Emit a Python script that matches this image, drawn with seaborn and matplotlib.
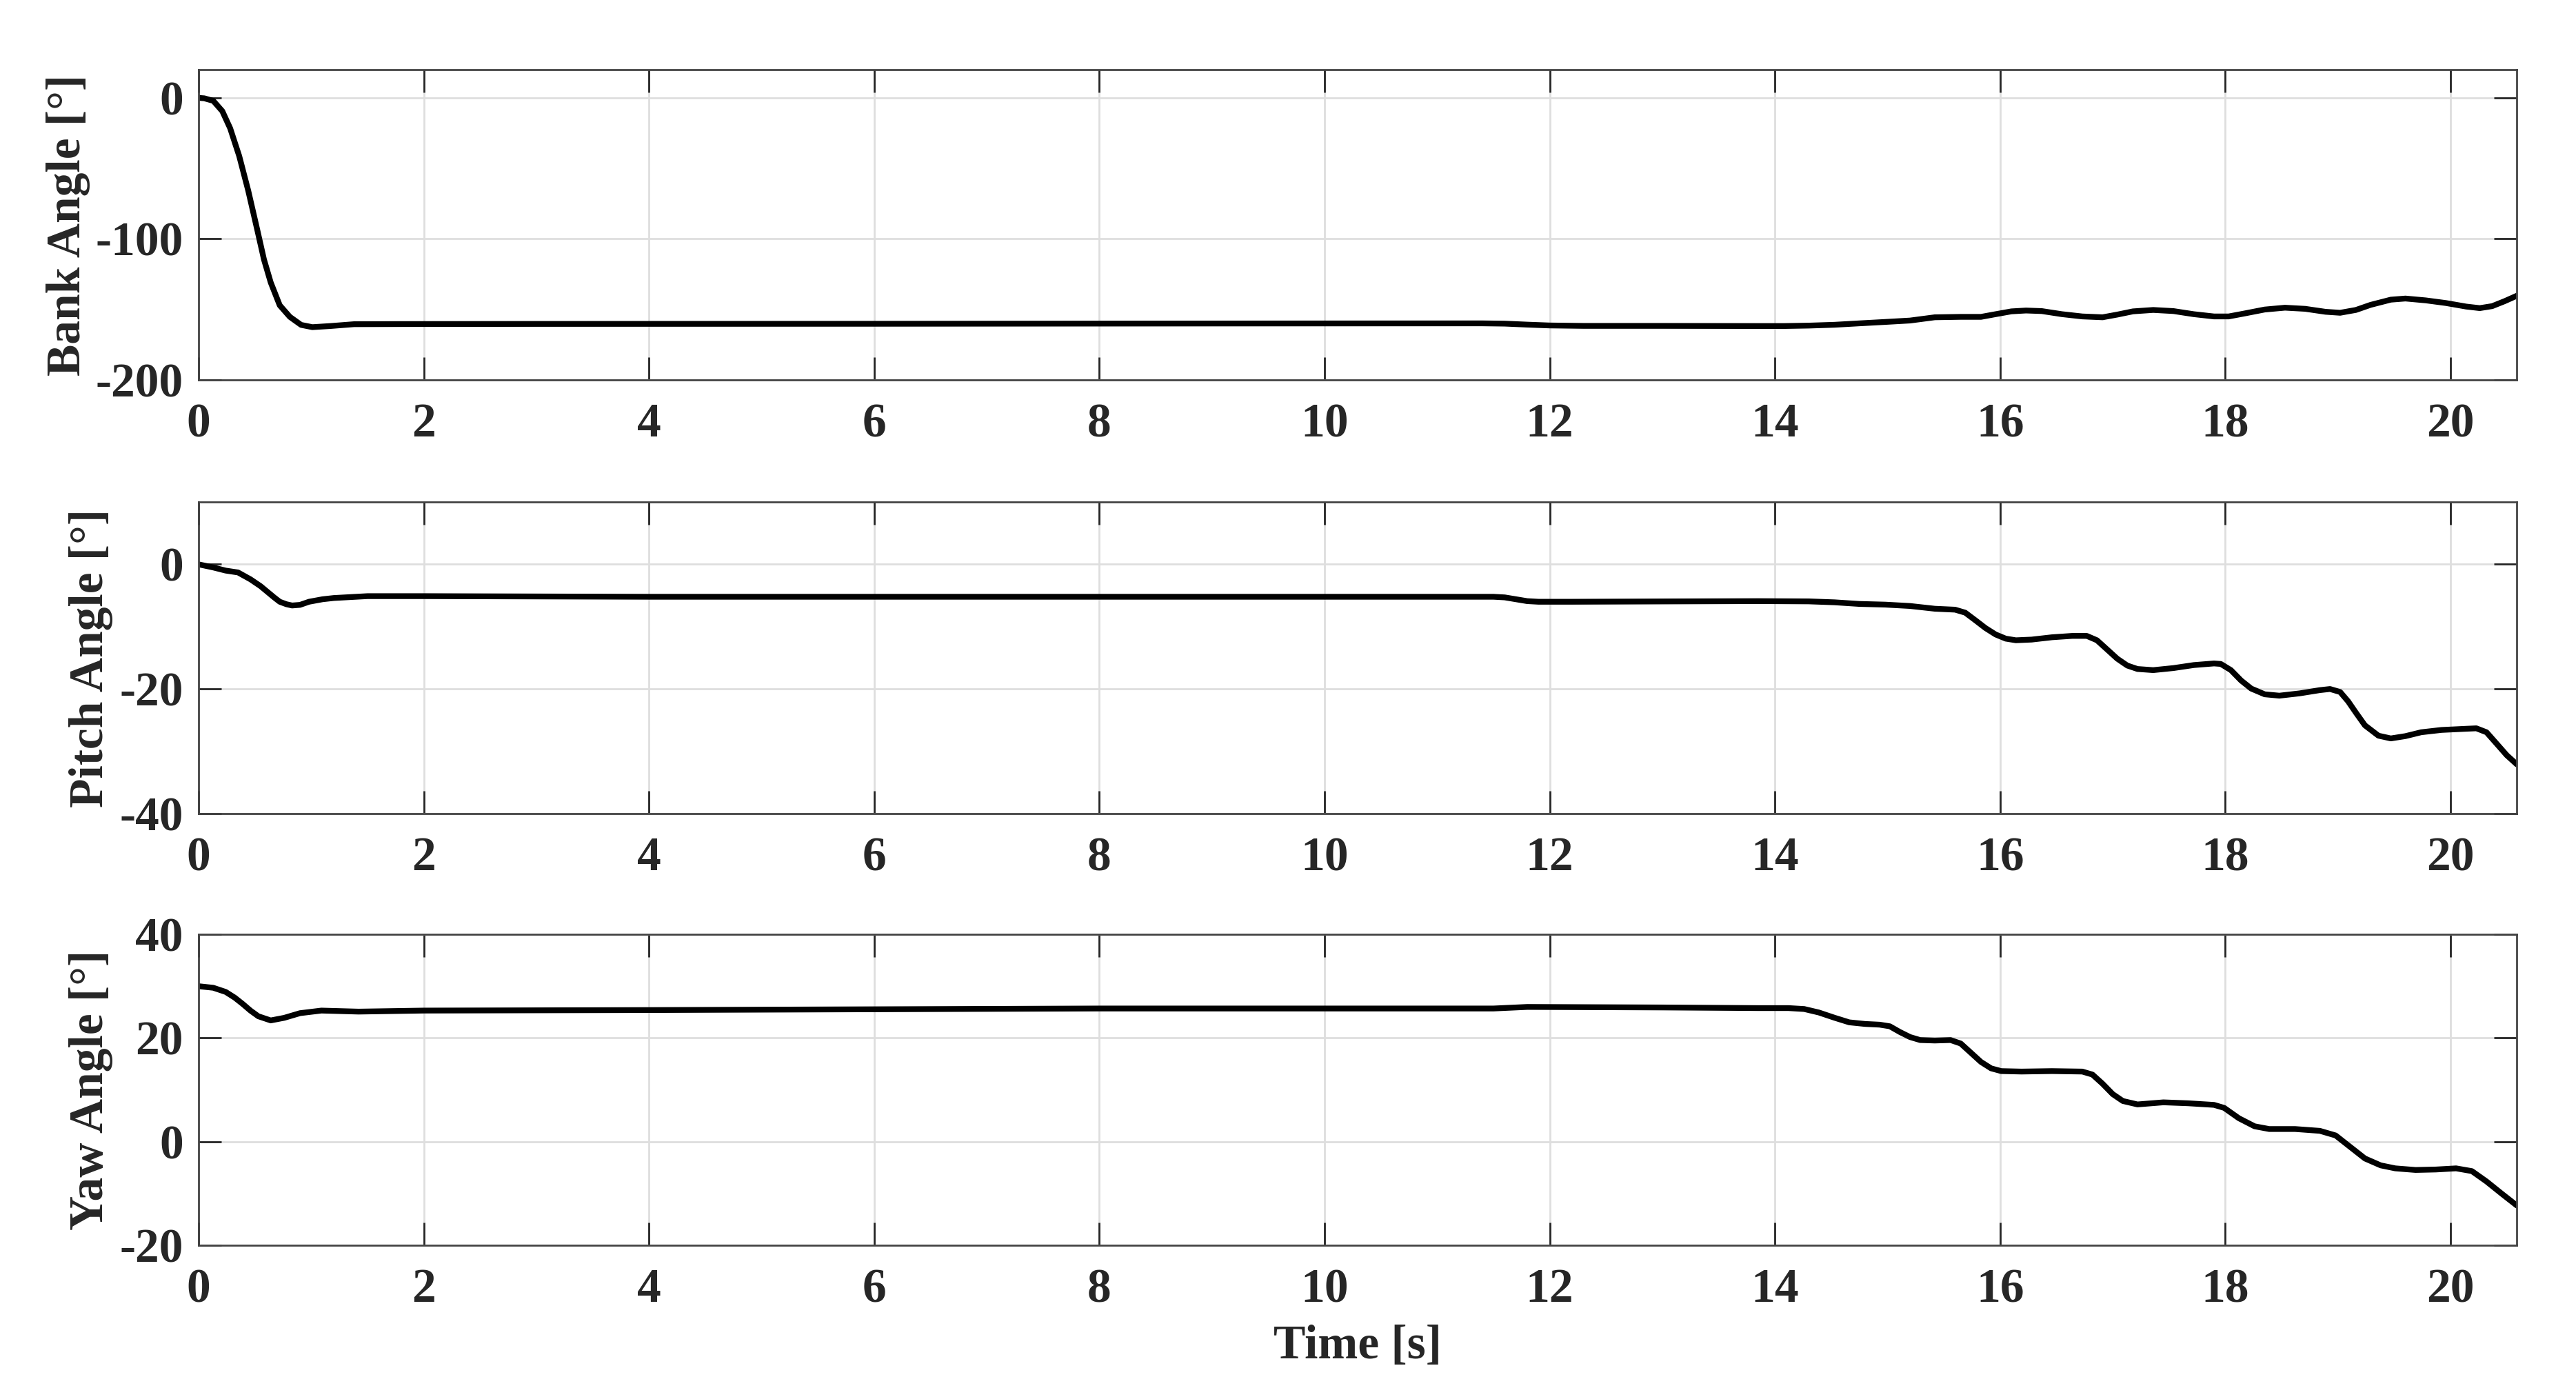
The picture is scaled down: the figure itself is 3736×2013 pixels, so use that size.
import numpy as np
import pandas as pd
import matplotlib
matplotlib.use("Agg")
import matplotlib.pyplot as plt
import seaborn as sns

# ---------------- data ----------------
bank_t = [0, 0.05, 0.13, 0.21, 0.28, 0.36, 0.44, 0.52, 0.58, 0.64, 0.72, 0.81, 0.91,
          1.01, 1.17, 1.38, 1.8, 3, 6, 9, 11.4, 11.6, 11.8, 12.0, 12.3, 13.0,
          13.85, 14.08, 14.30, 14.53, 14.75, 14.98, 15.20, 15.42, 15.65, 15.83, 15.96,
          16.10, 16.23, 16.37, 16.55, 16.73, 16.91, 17.04, 17.18, 17.36, 17.54, 17.72,
          17.90, 18.03, 18.17, 18.35, 18.53, 18.71, 18.89, 19.02, 19.16, 19.29, 19.47,
          19.60, 19.78, 19.96, 20.14, 20.26, 20.37, 20.48, 20.59]
bank = [0, -0.3, -2.1, -9.4, -21.6, -41.2, -65.7, -93.4, -114.6, -130.9, -147.1, -155.3, -161.0,
        -162.6, -161.8, -160.5, -160.4, -160.3, -160.2, -160.0, -159.9, -160.1, -160.8, -161.4, -161.7, -161.7,
        -161.8, -161.8, -161.5, -160.9, -159.9, -158.9, -157.9, -155.6, -155.3, -155.3, -153.4,
        -151.4, -150.8, -151.2, -153.4, -155.0, -155.6, -153.7, -151.4, -150.4, -151.2, -153.4,
        -155.0, -155.0, -152.9, -150.1, -148.8, -149.6, -151.7, -152.4, -150.4, -146.8, -143.1,
        -142.3, -143.6, -145.5, -148.0, -149.1, -147.7, -144.2, -140.3]

pitch_t = [0, 0.13, 0.24, 0.35, 0.46, 0.55, 0.61, 0.67, 0.72, 0.78, 0.83, 0.9, 0.98, 1.1,
           1.2, 1.5, 2.0, 4.0, 8.0, 11.5, 11.6, 11.7, 11.8, 11.9, 12.2, 13.0,
           13.85, 14.30, 14.53, 14.75, 14.98, 15.20, 15.42, 15.60, 15.69, 15.78, 15.87,
           15.96, 16.05, 16.14, 16.28, 16.46, 16.64, 16.77, 16.86, 16.95, 17.04, 17.13,
           17.22, 17.36, 17.54, 17.72, 17.90, 17.96, 18.05, 18.14, 18.23, 18.35, 18.48,
           18.66, 18.84, 18.93, 19.02, 19.09, 19.16, 19.24, 19.36, 19.47, 19.60, 19.74,
           19.92, 20.14, 20.23, 20.32, 20.41, 20.50, 20.59]
pitch = [0, -0.5, -1.0, -1.3, -2.4, -3.5, -4.4, -5.3, -6.0, -6.4, -6.6, -6.5, -6.0, -5.6,
         -5.4, -5.1, -5.1, -5.2, -5.2, -5.2, -5.3, -5.6, -5.9, -6.0, -6.0, -5.95,
         -5.90, -5.94, -6.09, -6.35, -6.46, -6.68, -7.12, -7.27, -7.75, -8.97, -10.22,
         -11.25, -11.92, -12.18, -12.07, -11.70, -11.48, -11.48, -12.18, -13.65, -15.13, -16.24,
         -16.79, -16.97, -16.64, -16.16, -15.90, -15.98, -16.97, -18.63, -19.93, -20.85, -21.07,
         -20.70, -20.18, -20.00, -20.48, -21.96, -23.80, -25.83, -27.49, -27.93, -27.56, -26.94,
         -26.57, -26.38, -26.31, -26.94, -28.78, -30.63, -32.10]

yaw_t = [0, 0.13, 0.24, 0.32, 0.39, 0.46, 0.53, 0.64, 0.76, 0.9, 1.09, 1.42, 2.0, 4.0, 8.0,
         11.5, 11.8, 13.0, 13.85, 14.12, 14.26, 14.39, 14.53, 14.66, 14.80, 14.93, 15.02,
         15.11, 15.20, 15.29, 15.42, 15.56, 15.65, 15.74, 15.83, 15.92, 16.01, 16.19, 16.46,
         16.73, 16.82, 16.91, 17.00, 17.09, 17.22, 17.45, 17.67, 17.90, 17.99, 18.12, 18.26,
         18.39, 18.62, 18.84, 18.98, 19.11, 19.24, 19.38, 19.51, 19.69, 19.87, 20.05, 20.19,
         20.32, 20.46, 20.59]
yaw = [30.0, 29.7, 28.9, 27.8, 26.6, 25.3, 24.2, 23.4, 23.9, 24.8, 25.3, 25.1, 25.3, 25.4, 25.7,
       25.7, 26.0, 25.9, 25.78, 25.78, 25.60, 24.93, 23.91, 23.03, 22.72, 22.58, 22.27,
       21.16, 20.19, 19.61, 19.52, 19.61, 18.94, 17.17, 15.39, 14.15, 13.62, 13.53, 13.62,
       13.53, 12.95, 11.18, 9.18, 7.85, 7.19, 7.59, 7.41, 7.10, 6.52, 4.53, 2.97,
       2.44, 2.44, 2.09, 1.20, -1.02, -3.24, -4.57, -5.15, -5.46, -5.37, -5.15, -5.68,
       -7.68, -10.12, -12.33]

x_ticks = [0, 2, 4, 6, 8, 10, 12, 14, 16, 18, 20]
panels = [
    ("Bank Angle [°]", bank_t, bank, (-200, 20), [-200, -100, 0], -0.0467),
    ("Pitch Angle [°]", pitch_t, pitch, (-40, 10), [-40, -20, 0], -0.0369),
    ("Yaw Angle [°]", yaw_t, yaw, (-20, 40), [-20, 0, 20, 40], -0.0369),
]
x_label = "Time [s]"

# ---------------- style ----------------
sns.set_theme(style="ticks")
plt.rcParams["font.family"] = ["Liberation Serif", "DejaVu Serif"]
plt.rcParams["font.weight"] = "bold"
plt.rcParams["axes.labelweight"] = "bold"
plt.rcParams["axes.unicode_minus"] = False

dark = "#262626"
fig = plt.figure(figsize=(18.685, 10.065), dpi=200)

rects = [
    [0.0771, 0.7263, 0.8997, 0.2235],
    [0.0771, 0.4138, 0.8997, 0.2245],
    [0.0771, 0.1028, 0.8997, 0.2240],
]

for (label, t, v, ylim, yt, lx), r in zip(panels, rects):
    ax = fig.add_axes(r)
    df = pd.DataFrame({"t": t, "v": v})
    sns.lineplot(data=df, x="t", y="v", ax=ax, color="black", linewidth=3.0,
                 estimator=None, sort=False)
    ax.set_xlim(0, 20.59)
    ax.set_ylim(*ylim)
    ax.set_xticks(x_ticks)
    ax.set_yticks(yt)
    ax.grid(True, color="#dedede", linewidth=1.0)
    ax.tick_params(direction="in", top=True, right=True, length=11.9, width=1.0,
                   colors=dark, labelsize=25, labelcolor=dark)
    ax.tick_params(axis="x", pad=12)
    ax.tick_params(axis="y", pad=8)
    for lab in ax.get_xticklabels() + ax.get_yticklabels():
        lab.set_fontweight("bold")
    for s in ax.spines.values():
        s.set_color("#444444")
        s.set_linewidth(1.0)
    ax.set_ylabel(label, fontsize=25, fontweight="bold", color=dark)
    ax.yaxis.set_label_coords(lx, 0.5)
    ax.set_xlabel("")
    last = ax

last.set_xlabel(x_label, fontsize=25, fontweight="bold", color=dark)
last.xaxis.set_label_coords(0.5, -0.255)

fig.savefig("out.png", dpi=200, facecolor="white")
